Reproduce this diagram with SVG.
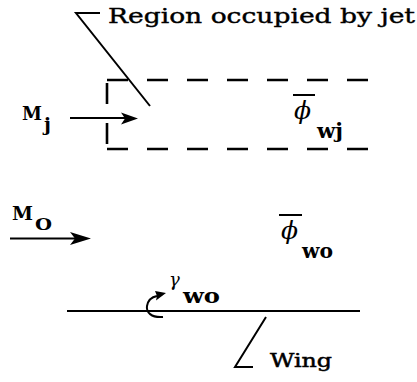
<svg xmlns="http://www.w3.org/2000/svg" width="417" height="382" viewBox="0 0 417 382">
<style>
.ln{stroke:#000;fill:none;stroke-width:2}
.dash{stroke:#000;fill:none;stroke-width:2.6;stroke-dasharray:21 19}
.t{font-family:"DejaVu Serif","Liberation Serif",serif;fill:#000}
.big{font-size:21px;stroke:#000;stroke-width:0.4}
.mm{font-size:19px;font-weight:bold}
.sub{font-size:20px;font-weight:bold}
.head{fill:#000;stroke:none}
</style>
<g id="connectors">
<path class="ln" d="M100,13 H76 L150,106"/>
<line class="ln" x1="70" y1="118" x2="128" y2="118"/>
<path class="head" d="M138,118.5 L121,112.5 L125,118.5 L121,124.5 Z"/>
<line class="ln" x1="10" y1="238.5" x2="82" y2="238.5" stroke-width="2.5"/>
<path class="head" d="M91,238.5 L70,232 L75,238.5 L70,245 Z"/>
<path class="ln" d="M266,317 L235,367 H253"/>
</g>
<g id="jet-region">
<line class="dash" x1="107" y1="80" x2="373" y2="80"/>
<line class="dash" x1="107" y1="149" x2="373" y2="149"/>
<line class="dash" x1="107" y1="83" x2="107" y2="146" stroke-dasharray="16 10"/>
</g>
<g id="label-region">
<text class="t big" x="108" y="23" textLength="307" lengthAdjust="spacingAndGlyphs">Region occupied by jet</text>
</g>
<g id="Mj">
<text class="t mm" x="22" y="120" textLength="20" lengthAdjust="spacingAndGlyphs">M</text>
<text class="t mm" x="44" y="131">j</text>
</g>
<g id="phi-wj">
<line class="ln" x1="293" y1="95" x2="315" y2="95" stroke-width="2.5"/>
<text class="t" x="294" y="119" font-size="25" font-style="italic">ϕ</text>
<text class="t sub" x="317" y="138" textLength="26" lengthAdjust="spacingAndGlyphs">wj</text>
</g>
<g id="Mo">
<text class="t mm" x="12" y="220" textLength="21" lengthAdjust="spacingAndGlyphs">M</text>
<text class="t" x="35" y="230" font-size="16" font-weight="bold" textLength="17" lengthAdjust="spacingAndGlyphs">O</text>
</g>
<g id="phi-wo">
<line class="ln" x1="279" y1="215" x2="302" y2="215" stroke-width="2.5"/>
<text class="t" x="281" y="239" font-size="25" font-style="italic">ϕ</text>
<text class="t sub" x="302" y="258" textLength="31" lengthAdjust="spacingAndGlyphs">wo</text>
</g>
<g id="wing">
<line class="ln" x1="67" y1="311" x2="360" y2="311" stroke-width="1.5"/>
<text class="t" x="270" y="367" font-size="19" stroke="#000" stroke-width="0.5" textLength="62" lengthAdjust="spacingAndGlyphs">Wing</text>
</g>
<g id="gamma-wo">
<path class="ln" d="M163,317 C151,318 146,312 147,306 C148,300 152,297 157,296"/>
<path class="head" d="M166,293 L155,291 L157,296 L156,300.5 Z"/>
<text class="t" x="169" y="286" font-size="18" font-style="italic">γ</text>
<text class="t sub" x="183" y="303" textLength="37" lengthAdjust="spacingAndGlyphs">wo</text>
</g>
</svg>
